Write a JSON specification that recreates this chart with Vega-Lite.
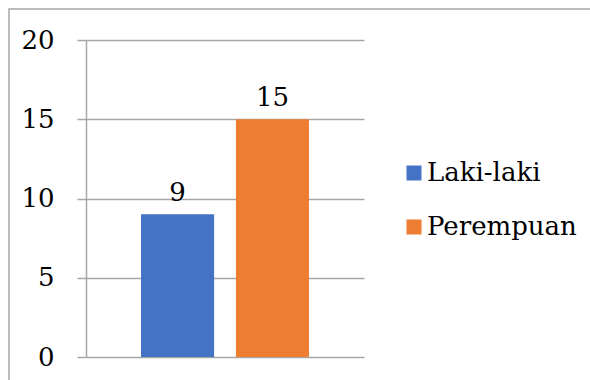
{
  "$schema": "https://vega.github.io/schema/vega-lite/v6.json",
  "width": 590,
  "height": 380,
  "autosize": "none",
  "padding": {"left": 9, "top": 9, "right": 0, "bottom": 0},
  "background": "white",
  "config": {
    "view": {"stroke": "#a6a6a6", "strokeWidth": 1.5},
    "font": "DejaVu Serif"
  },
  "data": {
    "values": [
      {"series": "Laki-laki", "value": 9},
      {"series": "Perempuan", "value": 15}
    ]
  },
  "encoding": {
    "x": {
      "field": "series",
      "type": "nominal",
      "sort": null,
      "scale": {"range": [77, 355], "paddingInner": 0.23, "paddingOuter": 0.58},
      "axis": null
    },
    "y": {
      "field": "value",
      "type": "quantitative",
      "scale": {"domain": [0, 20], "range": [348, 31], "nice": false},
      "axis": {
        "values": [0, 5, 10, 15, 20],
        "offset": -77,
        "title": null,
        "domainColor": "#a6a6a6",
        "domainWidth": 1.5,
        "tickColor": "#a6a6a6",
        "tickWidth": 1.5,
        "tickSize": 9,
        "gridColor": "#a6a6a6",
        "gridWidth": 1.5,
        "labelFontSize": 26,
        "labelFont": "DejaVu Serif",
        "labelColor": "black",
        "labelPadding": 23
      }
    }
  },
  "layer": [
    {
      "mark": {"type": "bar"},
      "encoding": {
        "color": {
          "field": "series",
          "type": "nominal",
          "sort": null,
          "scale": {"range": ["#4472C4", "#ED7D31"]},
          "legend": {
            "orient": "none",
            "legendX": 392,
            "legendY": 151,
            "padding": 0,
            "title": null,
            "symbolType": "square",
            "symbolSize": 225,
            "symbolStrokeWidth": 0,
            "symbolOpacity": 1,
            "labelFontSize": 26,
            "labelFont": "DejaVu Serif",
            "labelColor": "black",
            "labelLimit": 400,
            "rowPadding": 28,
            "labelOffset": 0
          }
        }
      }
    },
    {
      "mark": {"type": "text", "dy": -8, "baseline": "bottom", "fontSize": 26, "font": "DejaVu Serif", "color": "black"},
      "encoding": {"text": {"field": "value", "type": "quantitative"}}
    }
  ]
}
